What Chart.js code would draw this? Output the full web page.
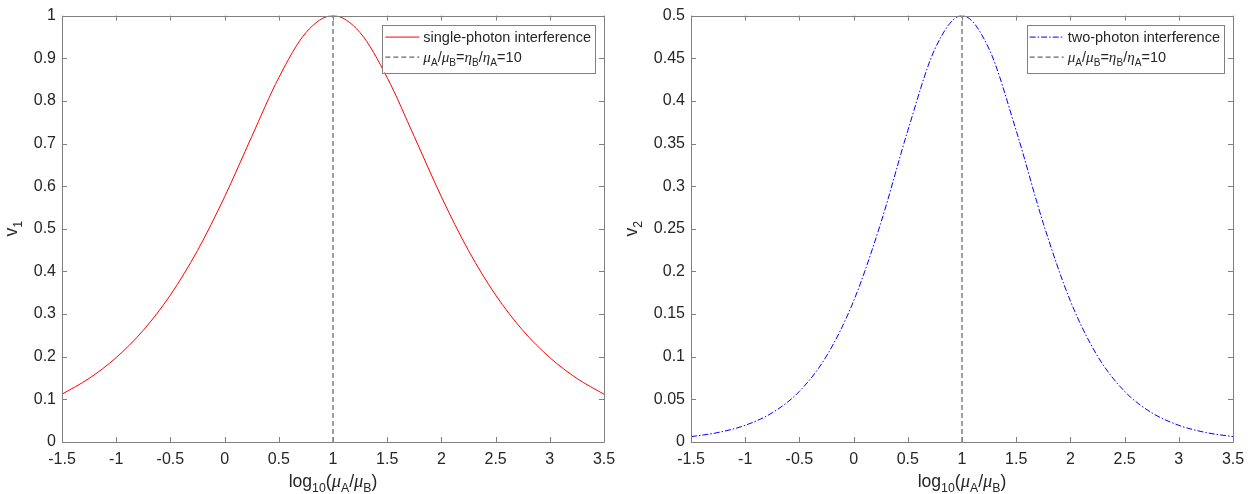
<!DOCTYPE html>
<html>
<head>
<meta charset="utf-8">
<script src="https://cdn.jsdelivr.net/npm/chart.js@4.4.1/dist/chart.umd.min.js"></script>
<style>
  body { margin: 0; background: #fff; }
  #wrap { position: relative; width: 1253px; height: 494px; }
  canvas { position: absolute; top: 0; }
</style>
</head>
<body>
<div id="wrap">
  <canvas id="leftChart" width="626" height="494" style="left:0"></canvas>
  <canvas id="rightChart" width="627" height="494" style="left:626px"></canvas>
</div>
<script>
// log10(muA/muB) sample positions
const logRatio = [-1.5, -1.25, -1, -0.75, -0.5, -0.25, 0, 0.25, 0.5, 0.75, 1,
                  1.25, 1.5, 1.75, 2, 2.25, 2.5, 2.75, 3, 3.25, 3.5];

// visibility
const singlePhoton = [0.1121, 0.1491, 0.1980, 0.2620, 0.3448, 0.4490, 0.5750, 0.7161, 0.8545, 0.9600, 1.0,
                      0.9600, 0.8545, 0.7161, 0.5750, 0.4490, 0.3448, 0.2620, 0.1980, 0.1491, 0.1121];
const twoPhoton = [0.0063, 0.0111, 0.0196, 0.0343, 0.0594, 0.1008, 0.1653, 0.2564, 0.3651, 0.4608, 0.5,
                   0.4608, 0.3651, 0.2564, 0.1653, 0.1008, 0.0594, 0.0343, 0.0196, 0.0111, 0.0063];

// muA/muB = etaB/etaA = 10  ->  log10 = 1
const peakRatio = 1;

const xTicks = [-1.5, -1, -0.5, 0, 0.5, 1, 1.5, 2, 2.5, 3, 3.5];
const y1Ticks = [0, 0.1, 0.2, 0.3, 0.4, 0.5, 0.6, 0.7, 0.8, 0.9, 1];
const y2Ticks = [0, 0.05, 0.1, 0.15, 0.2, 0.25, 0.3, 0.35, 0.4, 0.45, 0.5];

const FONT = '"Liberation Sans", Arial, sans-serif';
const TEXT = '#262626';
const AXIS = '#808080';

function partFont(p, size) {
    if (p.s) return (size * 0.7).toFixed(1) + 'px ' + FONT;
    if (p.g) return 'italic ' + (size * 1.05).toFixed(1) + 'px "Liberation Serif", serif';
    return size + 'px ' + FONT;
}

function richWidth(ctx, parts, size) {
    let w = 0;
    parts.forEach(p => { ctx.font = partFont(p, size); w += ctx.measureText(p.t).width; });
    return w;
}

// draws text with subscripts / greek letters
function richText(ctx, parts, x, y, size, align) {
    let w = richWidth(ctx, parts, size);
    let cx = align === 'center' ? x - w / 2 : x;
    ctx.fillStyle = TEXT;
    ctx.textBaseline = 'alphabetic';
    ctx.textAlign = 'left';
    parts.forEach(p => {
        ctx.font = partFont(p, size);
        ctx.fillText(p.t, cx, p.s ? y + size * 0.28 : y);
        cx += ctx.measureText(p.t).width;
    });
}

const xTitle = [{t: 'log'}, {t: '10', s: 1}, {t: '('}, {t: 'μ', g: 1}, {t: 'A', s: 1},
                {t: '/'}, {t: 'μ', g: 1}, {t: 'B', s: 1}, {t: ')'}];
const ratioLabel = [{t: 'μ', g: 1}, {t: 'A', s: 1}, {t: '/'}, {t: 'μ', g: 1}, {t: 'B', s: 1},
                    {t: '='}, {t: 'η', g: 1}, {t: 'B', s: 1}, {t: '/'}, {t: 'η', g: 1},
                    {t: 'A', s: 1}, {t: '=10'}];

const matlabLook = {
    id: 'matlabLook',
    afterDraw: function(chart, args, opts) {
        let ctx = chart.ctx;
        let a = chart.chartArea;
        let xs = chart.scales.x, ys = chart.scales.y;
        ctx.save();

        // box + inward ticks
        ctx.strokeStyle = AXIS;
        ctx.lineWidth = 1;
        ctx.setLineDash([]);
        ctx.beginPath();
        ctx.rect(Math.round(a.left) + 0.5, Math.round(a.top) + 0.5,
                 Math.round(a.right - a.left), Math.round(a.bottom - a.top));
        xTicks.forEach(v => {
            let px = Math.round(xs.getPixelForValue(v)) + 0.5;
            ctx.moveTo(px, a.bottom); ctx.lineTo(px, a.bottom - 5);
            ctx.moveTo(px, a.top); ctx.lineTo(px, a.top + 5);
        });
        opts.yTicks.forEach(v => {
            let py = Math.round(ys.getPixelForValue(v)) + 0.5;
            ctx.moveTo(a.left, py); ctx.lineTo(a.left + 5, py);
            ctx.moveTo(a.right, py); ctx.lineTo(a.right - 5, py);
        });
        ctx.stroke();

        // axis titles
        richText(ctx, xTitle, (a.left + a.right) / 2, 487, 17.6, 'center');
        ctx.save();
        ctx.translate(opts.yTitleX, (a.top + a.bottom) / 2);
        ctx.rotate(-Math.PI / 2);
        richText(ctx, [{t: 'v'}, {t: opts.ySub, s: 1}], 0, 0, 17.6, 'center');
        ctx.restore();

        // legend inside top right
        let row1 = [{t: opts.seriesName}];
        let lsz = 14.5;
        let textW = Math.max(richWidth(ctx, row1, lsz), richWidth(ctx, ratioLabel, lsz));
        let boxW = 3 + 34 + 4 + textW + 4;
        let boxR = a.right - 9;
        let boxL = boxR - boxW;
        let boxT = a.top + 9;
        ctx.fillStyle = '#fff';
        ctx.fillRect(boxL, boxT, boxW, 48);
        ctx.strokeStyle = AXIS;
        ctx.strokeRect(Math.round(boxL) + 0.5, Math.round(boxT) + 0.5, Math.round(boxW), 48);

        ctx.lineWidth = 1;
        ctx.strokeStyle = opts.seriesColor;
        ctx.setLineDash(opts.seriesDash);
        ctx.beginPath();
        ctx.moveTo(boxL + 3, boxT + 12.5); ctx.lineTo(boxL + 37, boxT + 12.5);
        ctx.stroke();
        ctx.strokeStyle = '#404040';
        ctx.setLineDash([5, 3]);
        ctx.beginPath();
        ctx.moveTo(boxL + 3, boxT + 32.5); ctx.lineTo(boxL + 37, boxT + 32.5);
        ctx.stroke();
        ctx.setLineDash([]);
        richText(ctx, row1, boxL + 41, boxT + 17.5, lsz, 'left');
        richText(ctx, ratioLabel, boxL + 41, boxT + 37.5, lsz, 'left');

        ctx.restore();
    }
};

function makePanel(canvasId, values, color, dash, yMax, yTicks, ySub, name, padL, padR, yTitleX) {
    let tickFont = { family: FONT, size: 16 };
    return new Chart(document.getElementById(canvasId), {
        type: 'line',
        data: {
            datasets: [{
                data: logRatio.map((x, i) => ({x: x, y: values[i]})),
                borderColor: color,
                borderWidth: 1,
                borderDash: dash,
                pointRadius: 0,
                cubicInterpolationMode: 'monotone',
                fill: false
            }, {
                data: [{x: peakRatio, y: 0}, {x: peakRatio, y: yMax}],
                borderColor: '#404040',
                borderWidth: 1,
                borderDash: [5, 3],
                pointRadius: 0,
                fill: false
            }]
        },
        options: {
            responsive: false,
            animation: false,
            devicePixelRatio: 1,
            layout: { padding: { left: 0, right: padR, top: 14, bottom: 0 } },
            plugins: {
                legend: { display: false },
                tooltip: { enabled: false },
                matlabLook: {
                    yTicks: yTicks, ySub: ySub, seriesName: name,
                    seriesColor: color, seriesDash: dash, yTitleX: yTitleX
                }
            },
            scales: {
                x: {
                    type: 'linear', min: -1.5, max: 3.5,
                    grid: { display: false, drawTicks: false },
                    border: { display: false },
                    afterBuildTicks: s => { s.ticks = xTicks.map(v => ({value: v})); },
                    afterFit: s => { s.height = 52; },
                    ticks: {
                        color: TEXT, font: tickFont, padding: 8, maxRotation: 0,
                        callback: v => String(v)
                    }
                },
                y: {
                    type: 'linear', min: 0, max: yMax,
                    grid: { display: false, drawTicks: false },
                    border: { display: false },
                    afterBuildTicks: s => { s.ticks = yTicks.map(v => ({value: v})); },
                    afterFit: s => { s.width = padL; },
                    ticks: {
                        color: TEXT, font: tickFont, padding: 6,
                        callback: v => String(+v.toFixed(2))
                    }
                }
            }
        },
        plugins: [matlabLook]
    });
}

makePanel('leftChart', singlePhoton, '#ff0000', [], 1, y1Ticks, '1',
          'single-photon interference', 62, 22, 17);
makePanel('rightChart', twoPhoton, '#0000ff', [6, 2, 1.5, 2], 0.5, y2Ticks, '2',
          'two-photon interference', 65, 20, 11);
</script>
</body>
</html>
